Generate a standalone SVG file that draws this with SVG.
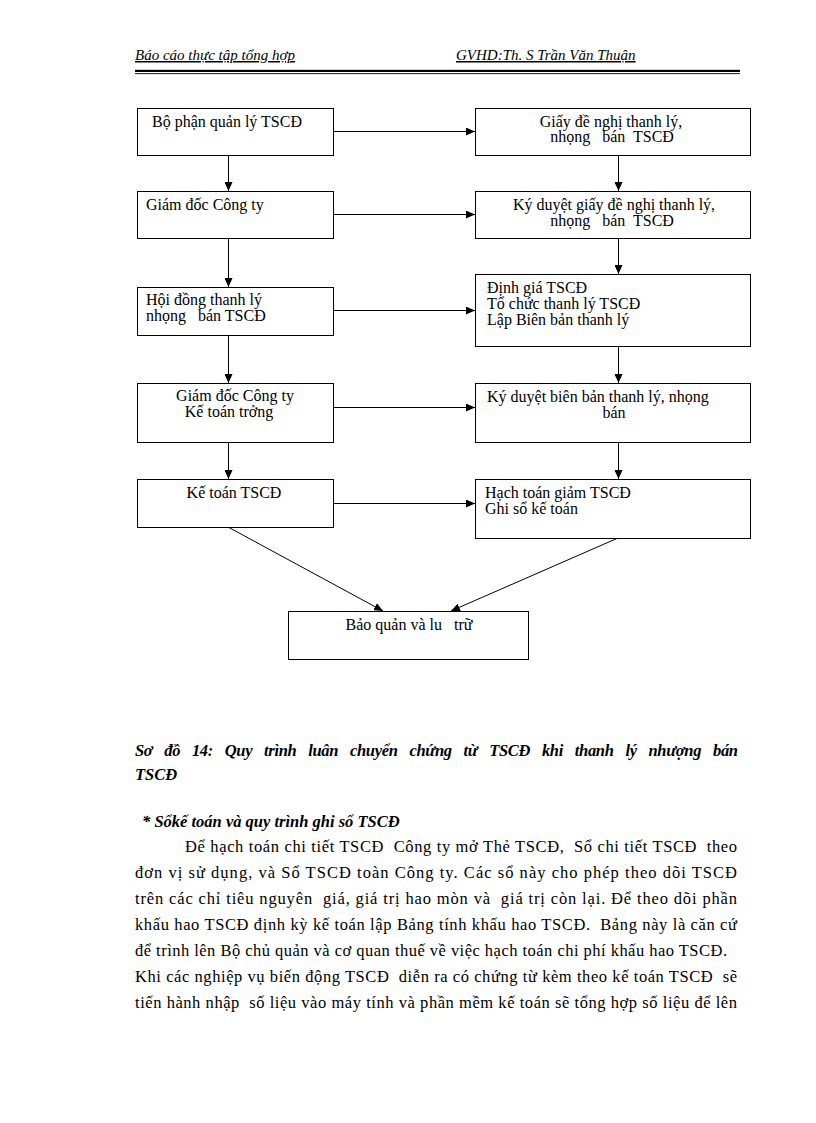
<svg xmlns="http://www.w3.org/2000/svg" width="816" height="1123" viewBox="0 0 816 1123" xml:space="preserve">
<style>
  text { white-space: pre; }
  .bg { fill: #ffffff; }
  .box { fill: #ffffff; stroke: #000000; stroke-width: 1; }
  .t { font-family: "Liberation Serif", "DejaVu Serif", serif; font-size: 16px; fill: #000000; }
  .tm { text-anchor: middle; }
  .hdr { font-family: "Liberation Serif", "DejaVu Serif", serif; font-size: 15px; font-style: italic; fill: #000000; text-decoration: underline; }
  .cap { font-family: "Liberation Serif", "DejaVu Serif", serif; font-size: 16.5px; font-style: italic; font-weight: bold; fill: #000000; }
  .body { font-family: "Liberation Serif", "DejaVu Serif", serif; font-size: 16.5px; fill: #000000; }
  .conn { stroke: #000000; stroke-width: 1; fill: none; }
</style>
<defs>
  <marker id="arrow" markerUnits="userSpaceOnUse" markerWidth="10" markerHeight="8" refX="9" refY="4" orient="auto">
    <path d="M0,0 L9,4 L0,8 Z" fill="#000000"/>
  </marker>
</defs>
<rect class="bg" x="0" y="0" width="816" height="1123"/>

<g id="header">
  <text class="hdr" x="135" y="60">Báo cáo thực tập tổng hợp</text>
  <text class="hdr" x="456" y="60">GVHD:Th. S Trần Văn Thuận</text>
  <rect x="135" y="69.8" width="605" height="2.2" fill="#000000"/>
  <rect x="135" y="73.2" width="605" height="0.9" fill="#000000"/>
</g>

<g id="connectors">
  <line class="conn" x1="333" y1="131.5" x2="475" y2="131.5" marker-end="url(#arrow)"/>
  <line class="conn" x1="333" y1="214.5" x2="475" y2="214.5" marker-end="url(#arrow)"/>
  <line class="conn" x1="333" y1="310.5" x2="475" y2="310.5" marker-end="url(#arrow)"/>
  <line class="conn" x1="333" y1="407.5" x2="475" y2="407.5" marker-end="url(#arrow)"/>
  <line class="conn" x1="333" y1="503.5" x2="475" y2="503.5" marker-end="url(#arrow)"/>
  <line class="conn" x1="228.5" y1="155" x2="228.5" y2="191" marker-end="url(#arrow)"/>
  <line class="conn" x1="228.5" y1="238" x2="228.5" y2="287" marker-end="url(#arrow)"/>
  <line class="conn" x1="228.5" y1="335" x2="228.5" y2="383" marker-end="url(#arrow)"/>
  <line class="conn" x1="228.5" y1="442" x2="228.5" y2="479" marker-end="url(#arrow)"/>
  <line class="conn" x1="618.5" y1="155" x2="618.5" y2="191" marker-end="url(#arrow)"/>
  <line class="conn" x1="618.5" y1="238" x2="618.5" y2="274" marker-end="url(#arrow)"/>
  <line class="conn" x1="618.5" y1="346" x2="618.5" y2="383" marker-end="url(#arrow)"/>
  <line class="conn" x1="618.5" y1="442" x2="618.5" y2="479" marker-end="url(#arrow)"/>
  <line class="conn" x1="228" y1="527" x2="383" y2="611" marker-end="url(#arrow)"/>
  <line class="conn" x1="618" y1="538" x2="451" y2="611" marker-end="url(#arrow)"/>
</g>

<g id="n-bophan">
  <rect class="box" x="137.5" y="108.5" width="196" height="47"/>
  <text class="t" x="152" y="127">Bộ phận quản lý TSCĐ</text>
</g>
<g id="n-giamdoc1">
  <rect class="box" x="137.5" y="191.5" width="196" height="47"/>
  <text class="t" x="146" y="210">Giám đốc Công ty</text>
</g>
<g id="n-hoidong">
  <rect class="box" x="137.5" y="287.5" width="196" height="48"/>
  <text class="t" x="146" y="305">Hội đồng thanh lý</text>
  <text class="t" x="146" y="321">nhọng   bán TSCĐ</text>
</g>
<g id="n-giamdoc2">
  <rect class="box" x="137.5" y="383.5" width="196" height="59"/>
  <text class="t tm" x="235" y="401">Giám đốc Công ty</text>
  <text class="t tm" x="229" y="417">Kế toán trởng</text>
</g>
<g id="n-ketoan">
  <rect class="box" x="137.5" y="479.5" width="196" height="48"/>
  <text class="t tm" x="234" y="498">Kế toán TSCĐ</text>
</g>

<g id="n-giay">
  <rect class="box" x="475.5" y="108.5" width="275" height="47"/>
  <text class="t tm" x="611" y="127">Giấy đề nghị thanh lý,</text>
  <text class="t tm" x="612" y="142">nhọng   bán  TSCĐ</text>
</g>
<g id="n-kyduyet1">
  <rect class="box" x="475.5" y="191.5" width="275" height="47"/>
  <text class="t tm" x="614" y="210">Ký duyệt giấy đề nghị thanh lý,</text>
  <text class="t tm" x="612" y="226">nhọng   bán  TSCĐ</text>
</g>
<g id="n-dinhgia">
  <rect class="box" x="475.5" y="274.5" width="275" height="72"/>
  <text class="t" x="487" y="293">Định giá TSCĐ</text>
  <text class="t" x="487" y="309">Tổ chức thanh lý TSCĐ</text>
  <text class="t" x="487" y="325">Lập Biên bản thanh lý</text>
</g>
<g id="n-kyduyet2">
  <rect class="box" x="475.5" y="383.5" width="275" height="59"/>
  <text class="t" x="487" y="402">Ký duyệt biên bản thanh lý, nhọng</text>
  <text class="t tm" x="614" y="418">bán</text>
</g>
<g id="n-hachtoan">
  <rect class="box" x="475.5" y="479.5" width="275" height="59"/>
  <text class="t" x="485" y="498">Hạch toán giảm TSCĐ</text>
  <text class="t" x="485" y="514">Ghi sổ kế toán</text>
</g>
<g id="n-baoquan">
  <rect class="box" x="288.5" y="611.5" width="240" height="48"/>
  <text class="t tm" x="409" y="630">Bảo quản và lu   trữ</text>
</g>

<g id="caption">
  <text class="cap" x="135" y="756" textLength="603" lengthAdjust="spacing" word-spacing="8">Sơ đồ 14: Quy trình luân chuyển chứng từ TSCĐ khi thanh lý nhượng bán</text>
  <text class="cap" x="135" y="780">TSCĐ</text>
  <text class="cap" x="142" y="827">* Sổkế toán và quy trình ghi sổ TSCĐ</text>
</g>

<g id="paragraph">
  <text class="body" x="185" y="852" textLength="552" lengthAdjust="spacing">Để hạch toán chi tiết TSCĐ  Công ty mở Thẻ TSCĐ,  Sổ chi tiết TSCĐ  theo</text>
  <text class="body" x="135" y="878" textLength="602" lengthAdjust="spacing">đơn vị sử dụng, và Sổ TSCĐ toàn Công ty. Các sổ này cho phép theo dõi TSCĐ</text>
  <text class="body" x="135" y="904" textLength="602" lengthAdjust="spacing">trên các chỉ tiêu nguyên  giá, giá trị hao mòn và  giá trị còn lại. Để theo dõi phần</text>
  <text class="body" x="135" y="930" textLength="602" lengthAdjust="spacing">khấu hao TSCĐ định kỳ kế toán lập Bảng tính khấu hao TSCĐ.  Bảng này là căn cứ</text>
  <text class="body" x="135" y="956" textLength="592" lengthAdjust="spacing">để trình lên Bộ chủ quản và cơ quan thuế về việc hạch toán chi phí khấu hao TSCĐ.</text>
  <text class="body" x="135" y="982" textLength="602" lengthAdjust="spacing">Khi các nghiệp vụ biến động TSCĐ  diễn ra có chứng từ kèm theo kế toán TSCĐ  sẽ</text>
  <text class="body" x="135" y="1008" textLength="602" lengthAdjust="spacing">tiến hành nhập  số liệu vào máy tính và phần mềm kế toán sẽ tổng hợp số liệu để lên</text>
</g>
</svg>
